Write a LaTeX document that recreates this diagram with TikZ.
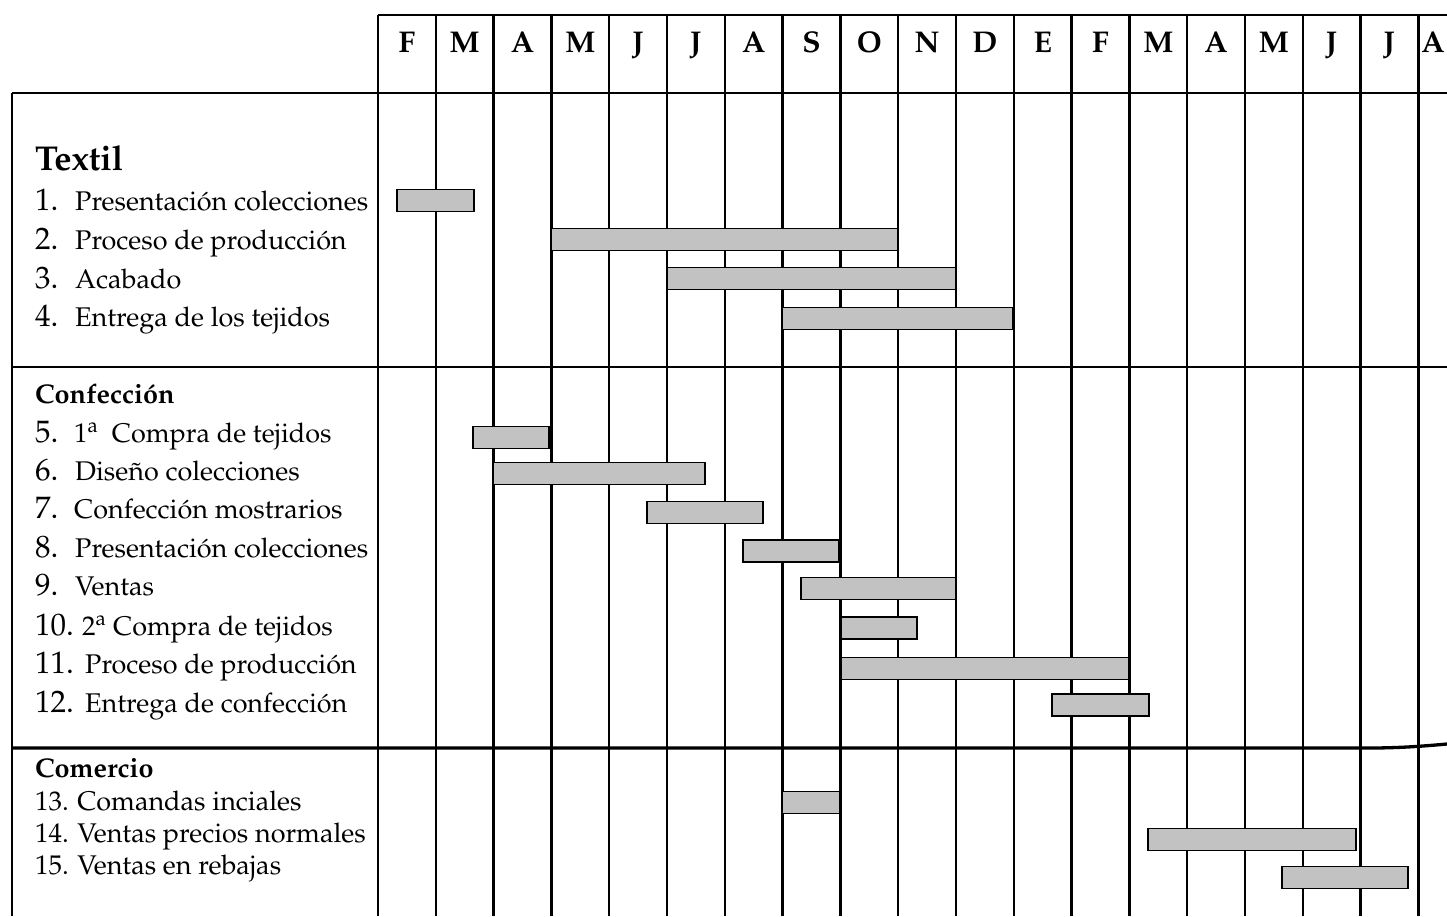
\documentclass[tikz,border=0pt]{standalone}
\usepackage[T1]{fontenc}
\usepackage{mathpazo}
\begin{document}
\begin{tikzpicture}[x=1pt,y=-1pt,
  gridline/.style={line width=2.3pt},
  rule/.style={line width=2.7pt},
  gbar/.style={draw=black, line width=1.4pt, fill=black!24, minimum height=22pt,
    inner sep=0pt, outer sep=0pt, anchor=west},
  month/.style={font=\fontsize{30}{33}\selectfont\bfseries, inner sep=0pt, anchor=base},
  head/.style={anchor=base west, inner sep=0pt, font=\fontsize{34.5}{38}\selectfont\bfseries},
  subhead/.style={anchor=base west, inner sep=0pt, font=\fontsize{27}{30}\selectfont\bfseries},
  num/.style={anchor=base west, inner sep=0pt, font=\fontsize{31}{34}\selectfont},
  item/.style={anchor=base west, inner sep=0pt, font=\fontsize{27}{30}\selectfont},
  small/.style={anchor=base west, inner sep=0pt, font=\fontsize{27}{30}\selectfont},
]
\useasboundingbox (0,0) rectangle (1447,916);

% frame of the header and the task column
\draw[rule] (378,15) -- (1447,15);
\draw[rule] (12,93) -- (1447,93);
\draw[rule] (12,367) -- (1447,367);
\draw[rule, line width=3.3pt] (12,748) -- (1370,748) .. controls (1400,748) and (1425,746) .. (1447,744);
\draw[gridline] (12,93) -- (12,916);

% month columns
\foreach \k in {0,...,18}
  \draw[gridline] ({378+57.8*\k},15) -- ({378+57.8*\k},916);

% month letters
\foreach \m [count=\k from 0] in {F,M,A,M,J,J,A,S,O,N,D,E,F,M,A,M,J,J}
  \node[month] (m\k) at ({378+57.8*(\k+0.5)},52) {\m};
\node[month] (m18) at (1433,52) {A};

% task labels
\node[head] (textil) at (35,170) {Textil};
\node[num] (n1) at (35,210) {1.};  \node[item] (t1) at (75,210) {Presentaci\'on colecciones};
\node[num] (n2) at (35,249) {2.};  \node[item] (t2) at (75,249) {Proceso de producci\'on};
\node[num] (n3) at (35,288) {3.};  \node[item] (t3) at (75,288) {Acabado};
\node[num] (n4) at (35,326) {4.};  \node[item] (t4) at (75,326) {Entrega de los tejidos};

\node[subhead] (confeccion) at (35,403) {Confecci\'on};
\node[num] (n5) at (35,442) {5.};  \node[item] (t5) at (74,442) {1\textsuperscript{a}\ \ Compra de tejidos};
\node[num] (n6) at (35,480) {6.};  \node[item] (t6) at (75,480) {Dise\~no colecciones};
\node[num] (n7) at (35,518) {7.};  \node[item] (t7) at (74,518) {Confecci\'on mostrarios};
\node[num] (n8) at (35,557) {8.};  \node[item] (t8) at (75,557) {Presentaci\'on colecciones};
\node[num] (n9) at (35,595) {9.};  \node[item] (t9) at (75,595) {Ventas};
\node[num] (n10) at (35,635) {10.}; \node[item] (t10) at (82,635) {2\textsuperscript{a} Compra de tejidos};
\node[num] (n11) at (35,673) {11.}; \node[item] (t11) at (85,673) {Proceso de producci\'on};
\node[num] (n12) at (35,712) {12.}; \node[item] (t12) at (85,712) {Entrega de confecci\'on};

\node[subhead] (comercio) at (35,777) {Comercio};
\node[small] (t13) at (35,810) {13. Comandas inciales};
\node[small] (t14) at (35,842) {14. Ventas precios normales};
\node[small] (t15) at (35,874) {15. Ventas en rebajas};

% activity bars: start, end, vertical centre
\foreach \a/\b/\c [count=\i] in {
    397/474/200.5, 551/898/239.5, 667/956/278.5, 782/1013/318.5,
    473/549/437.5, 493/705/473.5, 647/763/512.5, 743/839/551,
    801/956/588.5, 841/917/628, 841/1129/668.5, 1052/1149/705,
    782/840/802.5, 1148/1356/839.5, 1282/1408/877.5}
  \node[gbar, minimum width={(\b-\a)*1pt}] (bar\i) at (\a,\c) {};
\end{tikzpicture}
\end{document}
